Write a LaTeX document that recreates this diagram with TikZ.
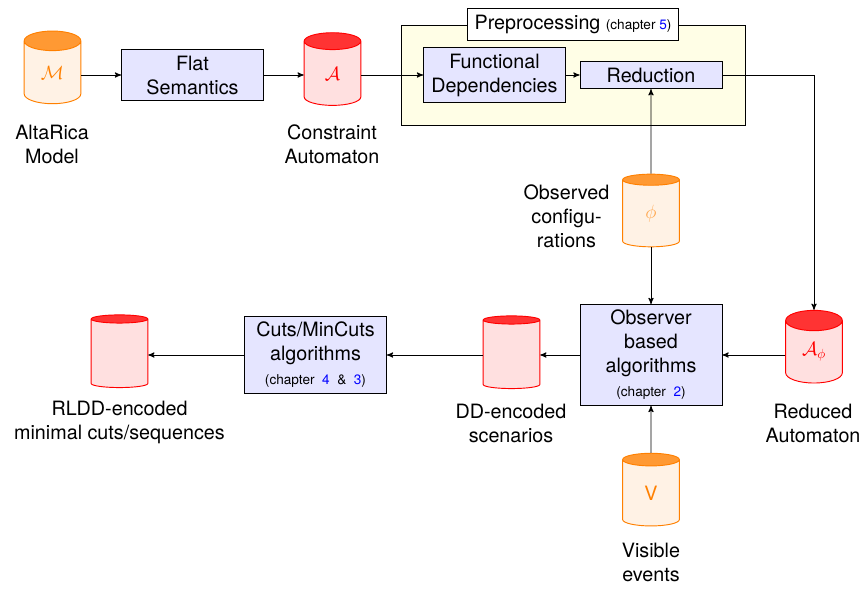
\documentclass[tikz,border=0pt]{standalone}
\usepackage{fontspec}
\setmainfont{TeX Gyre Heros}
\usetikzlibrary{shapes.geometric, arrows,calc}
\tikzstyle{arrow} = [line width=0.72pt,->,>=stealth']
\newcommand{\chapnum}[1]{\textcolor{blue}{#1}}
\newcommand{\chapfont}{\fontsize{10.2}{12}\selectfont}
\newcommand{\cyltext}[1]{\raisebox{-2pt}{#1}}
\begin{document}
\begin{tikzpicture}
[x=0.75pt,y=-0.75pt,font=\fontsize{14.8}{18}\selectfont,
algobox/.style={rectangle,draw=black,line width=0.75pt,fill=blue!10,minimum width=106.5pt,inner xsep=3pt,inner ysep=4.2pt,align=center},
labelbox/.style={align=center,inner sep=0pt},
basecyl/.style={cylinder,shape border rotate=90,line width=0.7pt,minimum width=42.5pt,minimum height=54.5pt,inner sep=0pt,cylinder uses custom fill},
orangecyl/.style={basecyl,draw=orange,text=orange,cylinder body fill=orange!10,cylinder end fill=orange!80},
redcyl/.style={basecyl,draw=red,text=red,cylinder body fill=red!12,cylinder end fill=red!80},]
\useasboundingbox (0,0) rectangle (865,589);
\node[rectangle,draw=black,line width=0.75pt,fill=yellow!10,minimum width=258pt,minimum height=75pt] (prep) at (573,75) {};
\node[rectangle,draw=black,fill=white,line width=0.75pt,minimum width=158pt,minimum height=24pt,inner sep=0pt] (preplabel) at (573,24.5) {Preprocessing {\chapfont (chapter \chapnum{5})}};

\node[orangecyl,aspect=0.85] (model) at (52.5,72.5) {\cyltext{$\mathcal{M}$}};
\node[redcyl,aspect=1.1] (constraint) at (332.5,73.5) {\cyltext{$\mathcal{A}$}};
\node[orangecyl,text=orange!70,aspect=1] (observed) at (651,213.5) {\cyltext{$\phi$}};
\node[redcyl,aspect=0.85] (reduced) at (814,352) {\cyltext{$\mathcal{A}_{\phi}$}};
\node[orangecyl,aspect=0.96] (visible) at (651,493) {\cyltext{V}};
\node[redcyl,aspect=0.62] (scenarios) at (511.5,354.5) {\phantom{A}};
\node[redcyl,aspect=0.62] (cuts) at (119.5,353.5) {\phantom{A}};

\node[algobox,inner ysep=4.5pt] (flat) at (192.5,75) {Flat\\Semantics};
\node[algobox,inner ysep=4.8pt] (fd) at (494.5,75) {Functional\\Dependencies};
\node[algobox,inner ysep=4.8pt] (reduction) at (651,75) {Reduction};
\node[algobox] (observer) at (651,355) {Observer\\based\\algorithms\\{\chapfont (chapter~~\chapnum{2})}};
\node[algobox] (mincuts) at (315.5,355) {Cuts/MinCuts\\algorithms\\{\chapfont (chapter~~\chapnum{4}~~\&~~\chapnum{3})}};

\node[labelbox] (modeltxt) at (52,144) {AltaRica\\Model};
\node[labelbox] (constrainttxt) at (332,144) {Constraint\\Automaton};
\node[labelbox] (observedtxt) at (566.5,216) {Observed\\configu-\\rations};
\node[labelbox] (reducedtxt) at (813,423) {Reduced\\Automaton};
\node[labelbox] (visibletxt) at (651,562.5) {Visible\\events};
\node[labelbox] (scenariostxt) at (511,423) {DD-encoded\\scenarios};
\node[labelbox] (cutstxt) at (119.5,422.5) {RLDD-encoded\\minimal cuts/sequences};

\draw[arrow] (model.east |- flat) -- (flat);
\draw[arrow] (flat) -- (constraint.west |- flat);
\draw[arrow] (constraint.east |- fd) -- (fd);
\draw[arrow] (fd) -- (reduction);
\draw[arrow] (observed.north) -- (reduction.south);
\draw[arrow] (observed.south) -- (observer.north);
\draw[arrow] (reduction.east) -| (reduced.north);
\draw[arrow] (reduced.west |- observer) -- (observer);
\draw[arrow] (visible.north) -- (observer.south);
\draw[arrow] (observer) -- (scenarios.east |- observer);
\draw[arrow] (scenarios.west |- mincuts) -- (mincuts);
\draw[arrow] (mincuts) -- (cuts.east |- mincuts);
\end{tikzpicture}
\end{document}
